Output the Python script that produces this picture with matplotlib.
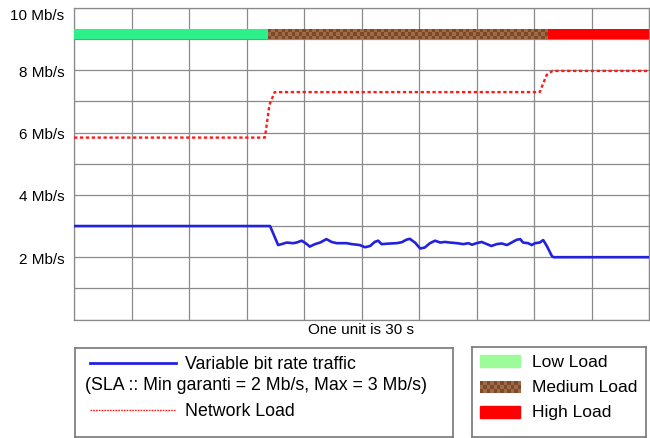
import numpy as np
import matplotlib
matplotlib.use("Agg")
import matplotlib.pyplot as plt
from matplotlib.lines import Line2D
from matplotlib.patches import Rectangle
from matplotlib.colors import ListedColormap
import matplotlib.transforms as mtransforms

plt.rcParams['font.family'] = ['Liberation Sans', 'DejaVu Sans']

# ---- data (x in units of 30 s, y in Mb/s) ----
vbr_x = [0, 3.41, 3.55, 3.61, 3.70, 3.81, 3.87, 3.96, 4.05, 4.10, 4.19, 4.28, 4.39,
         4.48, 4.57, 4.74, 4.83, 4.97, 5.06, 5.15, 5.23, 5.29, 5.35, 5.50, 5.61,
         5.70, 5.78, 5.84, 5.93, 6.02, 6.10, 6.19, 6.28, 6.37, 6.45, 6.54, 6.66,
         6.77, 6.86, 6.92, 7.00, 7.09, 7.18, 7.26, 7.35, 7.44, 7.53, 7.61, 7.70,
         7.76, 7.81, 7.90, 7.96, 8.02, 8.10, 8.16, 8.22, 8.31, 8.34, 10]
vbr_y = [3.0, 3.0, 2.39, 2.42, 2.47, 2.45, 2.47, 2.53, 2.42, 2.34, 2.42, 2.47, 2.58,
         2.49, 2.45, 2.45, 2.42, 2.39, 2.32, 2.36, 2.49, 2.53, 2.42, 2.44, 2.45,
         2.48, 2.56, 2.59, 2.47, 2.28, 2.31, 2.45, 2.53, 2.47, 2.49, 2.47, 2.45,
         2.42, 2.45, 2.40, 2.45, 2.49, 2.42, 2.36, 2.42, 2.44, 2.39, 2.47, 2.56,
         2.58, 2.47, 2.45, 2.39, 2.45, 2.47, 2.55, 2.37, 2.04, 2.0, 2.0]

load_x = [0, 3.32, 3.40, 3.49, 8.10, 8.22, 8.32, 10]
load_y = [5.84, 5.84, 6.9, 7.30, 7.30, 7.85, 7.98, 7.98]

phase_names = ["Low Load", "Medium Load", "High Load"]
phase_start = [0, 3.38, 8.24]
phase_end = [3.38, 8.24, 10]
phase_level = 9.17

ytick_vals = list(range(0, 11))
ytick_labels = ["", "", "2 Mb/s", "", "4 Mb/s", "", "6 Mb/s", "", "8 Mb/s", "", "10 Mb/s"]

# ---- style ----
c_blue = '#2222dd'
c_red = '#ff1a1a'
c_green = '#2ef08a'
c_green_leg = '#9dfc9a'
c_brown1 = '#7a4a2c'
c_brown2 = '#a06a44'
c_highred = '#ff0000'
c_grid = '#8a8a8a'
bar_h = 0.32

fig = plt.figure(figsize=(6.5, 4.39), dpi=100)
ax = fig.add_axes([74/650, 1-320.5/439, (649-74)/650, (320.5-9)/439])
ax.set_xlim(0, 10)
ax.set_ylim(0, 10)
ax.set_xticks(range(0, 11))
ax.set_xticklabels([])
ax.set_yticks(ytick_vals)
ax.set_yticklabels(ytick_labels, fontsize=11)
ax.tick_params(length=0, pad=7)
ax.grid(True, color=c_grid, lw=0.9)
ax.set_axisbelow(True)
for s in ax.spines.values():
    s.set_color(c_grid)
    s.set_linewidth(0.9)
ax.set_xlabel("One unit is 30 s", fontsize=11, labelpad=-5.5)

# shift the top label down so it stays inside the figure, like the reference
top_lbl = ax.get_yticklabels()[-1]
top_lbl.set_transform(top_lbl.get_transform() +
                      mtransforms.ScaledTranslation(0, -6/100, fig.dpi_scale_trans))

# load phase bar
ax.barh(phase_level, phase_end[0]-phase_start[0], left=phase_start[0], height=bar_h,
        color=c_green, zorder=3)
ax.barh(phase_level, phase_end[2]-phase_start[2], left=phase_start[2], height=bar_h,
        color=c_highred, zorder=3)
ncols = int(round((phase_end[1]-phase_start[1]) * 57.5 / 3.4))
checker = (np.add.outer(np.arange(3), np.arange(ncols)) % 2).astype(float)
ax.imshow(checker, cmap=ListedColormap([c_brown1, c_brown2]), interpolation='nearest',
          extent=[phase_start[1], phase_end[1], phase_level-bar_h/2, phase_level+bar_h/2],
          aspect='auto', zorder=3)
ax.set_xlim(0, 10)
ax.set_ylim(0, 10)

ax.plot(load_x, load_y, color=c_red, lw=1.7, linestyle=(0, (1.4, 1.1)), zorder=4)
ax.plot(vbr_x, vbr_y, color=c_blue, lw=1.9, zorder=5)

# ---- left legend box ----
lg1 = fig.add_axes([75/650, 1-438/439, (453-75)/650, (438-349)/439])
lg1.set_xlim(0, 1); lg1.set_ylim(0, 1)
lg1.set_xticks([]); lg1.set_yticks([])
for s in lg1.spines.values():
    s.set_color('#777777'); s.set_linewidth(1.2)
lg1.add_line(Line2D([0.04, 0.267], [0.83, 0.83], color=c_blue, lw=2))
lg1.text(0.291, 0.83, "Variable bit rate traffic", fontsize=12.8, va='center', ha='left')
lg1.text(0.026, 0.585, "(SLA :: Min garanti = 2 Mb/s, Max = 3 Mb/s)", fontsize=12.8,
         va='center', ha='left')
lg1.add_line(Line2D([0.04, 0.267], [0.30, 0.30], color=c_red, lw=1.0,
                    linestyle=(0, (1.2, 0.8))))
lg1.text(0.291, 0.30, "Network Load", fontsize=12.8, va='center', ha='left')

# ---- right legend box ----
lg2 = fig.add_axes([472/650, 1-438/439, (646-472)/650, (438-348)/439])
lg2.set_xlim(0, 1); lg2.set_ylim(0, 1)
lg2.set_xticks([]); lg2.set_yticks([])
for s in lg2.spines.values():
    s.set_color('#777777'); s.set_linewidth(1.2)
patch_cols = [c_green_leg, None, c_highred]
patch_y = [0.844, 0.556, 0.278]
ph = 0.125
for name, col, yy in zip(phase_names, patch_cols, patch_y):
    if col is None:
        cb = (np.add.outer(np.arange(3), np.arange(12)) % 2).astype(float)
        lg2.imshow(cb, cmap=ListedColormap([c_brown1, c_brown2]), interpolation='nearest',
                   extent=[0.046, 0.276, yy-ph/2, yy+ph/2], aspect='auto')
    else:
        lg2.add_patch(Rectangle((0.046, yy-ph/2), 0.23, ph, color=col))
    lg2.text(0.345, yy, name, fontsize=12.5, va='center', ha='left')
lg2.set_xlim(0, 1); lg2.set_ylim(0, 1)

fig.savefig("out.png", dpi=100)
